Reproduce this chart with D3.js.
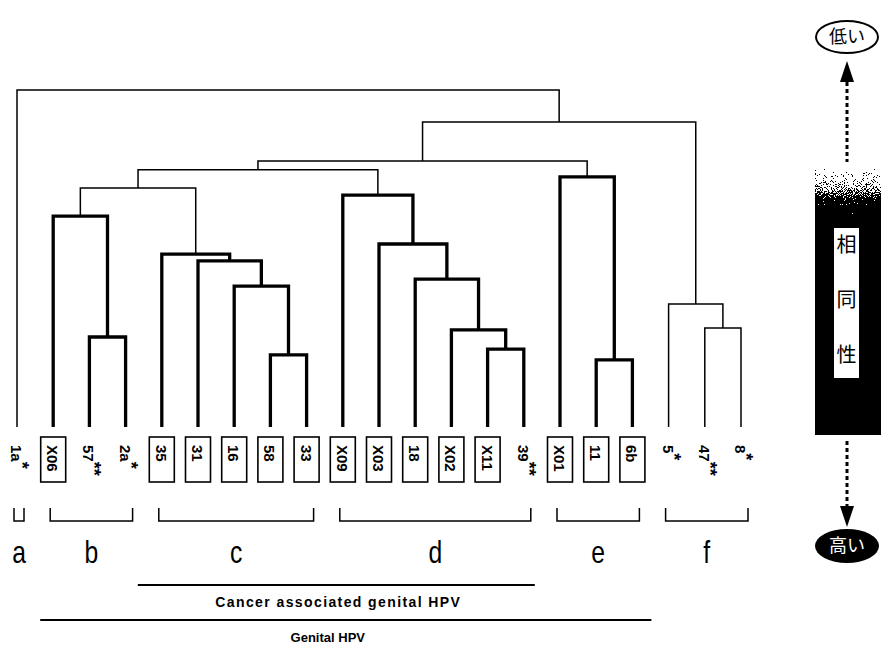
<!DOCTYPE html>
<html>
<head>
<meta charset="utf-8">
<script src="https://cdn.jsdelivr.net/npm/d3@7/dist/d3.min.js"></script>
<style>
  html, body { margin: 0; padding: 0; background: #fff; }
  svg { display: block; }
</style>
</head>
<body>
<script>
// HPV types, in the order they sit along the bottom of the tree
var leafNames = ["1a", "X06", "57", "2a", "35", "31", "16", "58", "33", "X09", "X03",
  "18", "X02", "X11", "39", "X01", "11", "6b", "5", "47", "8"];
// number of asterisks after each name
var leafStars = [1, 0, 2, 1, 0, 0, 0, 0, 0, 0, 0, 0, 0, 0, 2, 0, 0, 0, 1, 2, 1];
// types drawn inside a box
var boxedLeaves = ["X06", "35", "31", "16", "58", "33", "X09", "X03", "18", "X02", "X11",
  "X01", "11", "6b"];

// merges: [node, left child, right child, distance (root = 100)]
var merges = [
  ["c4", "58", "33", 21.4], ["c3", "16", "c4", 41.8], ["c2", "31", "c3", 49.3], ["c1", "35", "c2", 51.3],
  ["b2", "57", "2a", 26.7], ["b1", "X06", "b2", 62.6],
  ["d5", "X11", "39", 23.1], ["d4", "X02", "d5", 28.8], ["d3", "18", "d4", 43.9],
  ["d2", "X03", "d3", 54.3], ["d1", "X09", "d2", 68.8],
  ["e2", "11", "6b", 19.9], ["e1", "X01", "e2", 74.2],
  ["f2", "47", "8", 29.4], ["f1", "5", "f2", 36.5],
  ["bc", "b1", "c1", 70.9], ["bcd", "bc", "d1", 76.3], ["bcde", "bcd", "e1", 78.9],
  ["bcdef", "bcde", "f1", 90.5], ["root", "1a", "bcdef", 100]
];

// groups marked with brackets
var groupNames = ["a", "b", "c", "d", "e", "f"];
var groupFirst = ["1a", "X06", "35", "X09", "X01", "5"];
var groupLast = ["1a", "2a", "33", "39", "6b", "8"];

// lines under the groups
var spanLabels = ["Cancer  associated genital HPV", "Genital HPV"];
var spanFrom = ["c", "b"];
var spanTo = ["d", "e"];

// similarity scale on the right
var scaleLow = "低い";
var scaleHigh = "高い";
var scaleTitle = ["相", "同", "性"];

var width = 881, height = 645;
var latin = "'Liberation Sans', Arial, Helvetica, sans-serif";
var cjk = "'Noto Sans CJK JP', 'Noto Sans CJK SC', sans-serif";

var svg = d3.select("body").append("svg")
  .attr("width", width)
  .attr("height", height);

var x = d3.scalePoint().domain(leafNames).range([17, 741]);
var y = d3.scaleLinear().domain([0, 100]).range([427, 90]);

// build the tree from the merge list
var nodes = {};
leafNames.forEach(function (n) { nodes[n] = { name: n, height: 0 }; });
merges.forEach(function (m) {
  nodes[m[0]] = { name: m[0], height: m[3], children: [nodes[m[1]], nodes[m[2]]] };
});
var root = d3.hierarchy(nodes["root"]);
root.eachAfter(function (d) {
  d.px = d.children ? d3.mean(d.children, function (c) { return c.px; }) : x(d.data.name);
  d.py = y(d.data.height);
});

// which group each leaf belongs to
var leafGroup = {};
groupNames.forEach(function (g, i) {
  var a = leafNames.indexOf(groupFirst[i]), b = leafNames.indexOf(groupLast[i]);
  for (var k = a; k <= b; k++) leafGroup[leafNames[k]] = g;
});
var genital = groupNames.slice(groupNames.indexOf(spanFrom[1]), groupNames.indexOf(spanTo[1]) + 1);

// branches inside one genital group are drawn heavy
function heavy(d) {
  var gs = Array.from(new Set(d.leaves().map(function (l) { return leafGroup[l.data.name]; })));
  return gs.length === 1 && genital.indexOf(gs[0]) >= 0;
}

var gTree = svg.append("g").attr("fill", "none").attr("stroke", "#000");
root.descendants().filter(function (d) { return d.children; }).forEach(function (d) {
  var c0 = d.children[0], c1 = d.children[1];
  var p = d3.path();
  p.moveTo(c0.px, c0.py);
  p.lineTo(c0.px, d.py);
  p.lineTo(c1.px, d.py);
  p.lineTo(c1.px, c1.py);
  gTree.append("path")
    .attr("d", p.toString())
    .attr("stroke-width", heavy(d) ? 3.3 : 1.5);
});

// leaf labels
var gLab = svg.append("g")
  .attr("font-family", latin)
  .attr("font-weight", "bold");
leafNames.forEach(function (n, i) {
  var cx = x(n);
  if (boxedLeaves.indexOf(n) >= 0) {
    gLab.append("rect")
      .attr("x", cx - 12.5).attr("y", 437)
      .attr("width", 25).attr("height", 45)
      .attr("fill", "#fff").attr("stroke", "#000").attr("stroke-width", 1.6);
  }
  var t = gLab.append("text")
    .attr("transform", "translate(" + cx + ",445) rotate(90)")
    .attr("dominant-baseline", "central")
    .attr("font-size", 15);
  t.append("tspan").text(n);
  if (leafStars[i]) {
    t.append("tspan").attr("dy", -5).attr("font-size", 18).text("*".repeat(leafStars[i]));
  }
});

// group brackets and letters
var bracketX = {};
var gGrp = svg.append("g");
groupNames.forEach(function (g, i) {
  var x0 = x(groupFirst[i]) - 3, x1 = x(groupLast[i]) + 7;
  bracketX[g] = [x0, x1];
  gGrp.append("path")
    .attr("d", "M" + x0 + ",508V521H" + x1 + "V508")
    .attr("fill", "none").attr("stroke", "#000").attr("stroke-width", 1.5);
  gGrp.append("text")
    .attr("transform", "translate(" + (x0 + x1) / 2 + ",563) scale(0.95,1.2)")
    .attr("text-anchor", "middle")
    .attr("font-family", latin)
    .attr("font-size", 26)
    .text(g);
});

// spans under the groups
var spanPad = [[-21, 4], [-10, 12]];
var spanY = [585, 620];
var spanTextShift = [2, -18];
spanLabels.forEach(function (s, i) {
  var x0 = bracketX[spanFrom[i]][0] + spanPad[i][0];
  var x1 = bracketX[spanTo[i]][1] + spanPad[i][1];
  svg.append("line")
    .attr("x1", x0).attr("x2", x1)
    .attr("y1", spanY[i]).attr("y2", spanY[i])
    .attr("stroke", "#000").attr("stroke-width", 1.8);
  svg.append("text")
    .attr("x", (x0 + x1) / 2 + spanTextShift[i]).attr("y", spanY[i] + 22)
    .attr("text-anchor", "middle")
    .attr("font-family", latin).attr("font-weight", "bold")
    .attr("font-size", i === 0 ? 14 : 13)
    .attr("letter-spacing", i === 0 ? 1.4 : 0)
    .text(s);
});

// similarity scale
var defs = svg.append("defs");
var grad = defs.append("linearGradient").attr("id", "fade")
  .attr("x1", 0).attr("y1", 0).attr("x2", 0).attr("y2", 1);
grad.append("stop").attr("offset", 0).attr("stop-color", "#f0f0f0");
grad.append("stop").attr("offset", 0.35).attr("stop-color", "#c8c8c8");
grad.append("stop").attr("offset", 1).attr("stop-color", "#000");
var dither = defs.append("filter").attr("id", "dither")
  .attr("x", 0).attr("y", 0).attr("width", 1).attr("height", 1);
dither.append("feTurbulence").attr("type", "fractalNoise")
  .attr("baseFrequency", 0.9).attr("numOctaves", 1).attr("result", "noise");
dither.append("feColorMatrix").attr("in", "noise").attr("type", "matrix")
  .attr("values", "1.6 0 0 0 -0.3  1.6 0 0 0 -0.3  1.6 0 0 0 -0.3  0 0 0 0 1")
  .attr("result", "grain");
dither.append("feComposite").attr("in", "SourceGraphic").attr("in2", "grain")
  .attr("operator", "arithmetic").attr("k1", 0).attr("k2", 1).attr("k3", 1).attr("k4", -0.5)
  .attr("result", "mix");
var ct = dither.append("feComponentTransfer").attr("in", "mix");
["feFuncR", "feFuncG", "feFuncB"].forEach(function (f) {
  ct.append(f).attr("type", "discrete").attr("tableValues", "0 1");
});

var cxS = 847;
var gS = svg.append("g");

gS.append("ellipse").attr("cx", cxS).attr("cy", 37).attr("rx", 31).attr("ry", 16)
  .attr("fill", "#fff").attr("stroke", "#000").attr("stroke-width", 2);
gS.append("text").attr("x", cxS).attr("y", 37).attr("dy", "0.35em")
  .attr("text-anchor", "middle").attr("font-family", cjk).attr("font-size", 18)
  .text(scaleLow);

gS.append("line").attr("x1", cxS).attr("x2", cxS).attr("y1", 82).attr("y2", 162)
  .attr("stroke", "#000").attr("stroke-width", 3).attr("stroke-dasharray", "4 3");
gS.append("path").attr("d", "M" + cxS + ",61L" + (cxS - 7) + ",82H" + (cxS + 7) + "Z");

gS.append("rect").attr("x", 815).attr("y", 168).attr("width", 66).attr("height", 267)
  .attr("fill", "#000");
gS.append("rect").attr("x", 815).attr("y", 168).attr("width", 66).attr("height", 58)
  .attr("fill", "url(#fade)").attr("filter", "url(#dither)");
gS.append("rect").attr("x", 834).attr("y", 228).attr("width", 25).attr("height", 150)
  .attr("fill", "#fff");
scaleTitle.forEach(function (c, i) {
  gS.append("text").attr("x", 846.5).attr("y", 245 + i * 55).attr("dy", "0.35em")
    .attr("text-anchor", "middle").attr("font-family", cjk).attr("font-size", 20)
    .text(c);
});

gS.append("line").attr("x1", cxS).attr("x2", cxS).attr("y1", 441).attr("y2", 508)
  .attr("stroke", "#000").attr("stroke-width", 3).attr("stroke-dasharray", "4 3");
gS.append("path").attr("d", "M" + (cxS - 7) + ",506H" + (cxS + 7) + "L" + cxS + ",527Z");

gS.append("ellipse").attr("cx", cxS).attr("cy", 546).attr("rx", 32).attr("ry", 17)
  .attr("fill", "#000");
gS.append("text").attr("x", cxS).attr("y", 546).attr("dy", "0.35em")
  .attr("text-anchor", "middle").attr("font-family", cjk).attr("font-size", 18)
  .attr("fill", "#fff")
  .text(scaleHigh);
</script>
</body>
</html>
